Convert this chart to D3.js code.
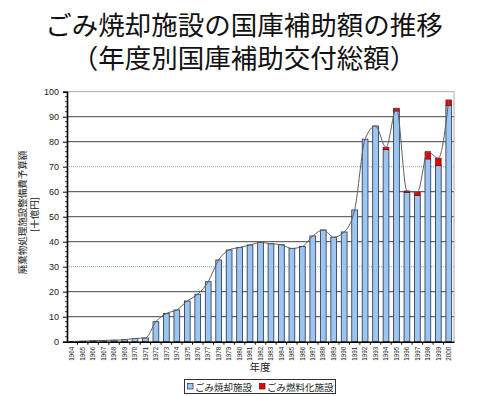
<!DOCTYPE html>
<html><head><meta charset="utf-8">
<script src="https://cdn.jsdelivr.net/npm/d3@7"></script>
<style>body{margin:0;background:#fff}svg{display:block}</style>
</head><body>
<svg id="c" width="480" height="396"></svg>
<script>
const years = ["1964","1965","1966","1967","1968","1969","1970","1971","1972","1973","1974","1975","1976","1977","1978","1979","1980","1981","1982","1983","1984","1985","1986","1987","1988","1989","1990","1991","1992","1993","1994","1995","1996","1997","1998","1999","2000"];
const incineration = [0.1,0.2,0.4,0.5,0.6,0.8,1.3,1.5,8.0,11.3,12.7,16.3,19.0,24.0,32.7,36.7,37.7,38.7,39.7,39.2,38.8,37.3,38.1,42.3,44.7,41.8,43.9,52.7,81.0,86.3,76.8,92.3,59.7,58.5,73.1,70.4,94.4];
const fuel = [0,0,0,0,0,0,0,0,0,0,0,0,0,0,0,0,0,0,0,0,0,0,0,0,0,0,0,0,0,0,0.9,1.1,0.6,1.3,2.9,3.0,2.3];
const yTicks = [0,10,20,30,40,50,60,70,80,90,100];
const seriesNames = ["ごみ焼却施設","ごみ燃料化施設"];
const titleLines = ["ごみ焼却施設の国庫補助額の推移","（年度別国庫補助交付総額）"];
const yLabelLines = ["廃棄物処理施設整備費予算額","[十億円]"];
const xLabel = "年度";

const svg = d3.select("#c");
const L = 67, R = 454, T = 91.7, B = 341.7;
const jp = "'Noto Sans CJK JP', sans-serif";
const num = "'Liberation Sans', Arial, sans-serif";

const x = d3.scaleBand().domain(years).range([L, R]).paddingInner(0.45).paddingOuter(0.225);
const y = d3.scaleLinear().domain([0, 100]).range([B, T]);

// title
svg.selectAll("text.title").data(titleLines).join("text")
  .attr("x", 244).attr("y", (d,i) => i ? 67.5 : 35)
  .attr("text-anchor","middle").attr("font-family", jp).attr("font-size", 26.5)
  .attr("fill","#111").text(d => d);

// gridlines
const g = svg.append("g");
g.selectAll("line.grid").data(yTicks.filter(v => v > 0)).join("line")
  .attr("x1", L).attr("x2", R).attr("y1", d => y(d)).attr("y2", d => y(d))
  .attr("stroke", d => d === 100 ? "#aaa" : (d === 30 || d === 70) ? "#7ea7d6" : "#444")
  .attr("stroke-width", 1)
  .attr("stroke-dasharray", d => (d === 30 || d === 70) ? "1,1" : null);
g.append("line").attr("x1", R).attr("x2", R).attr("y1", T).attr("y2", B).attr("stroke","#aaa");

// bars
const stack = years.map((yr,i) => ({yr, a: incineration[i], b: fuel[i]}));
svg.append("g").selectAll("rect").data(stack).join("rect")
  .attr("x", d => x(d.yr)).attr("width", x.bandwidth())
  .attr("y", d => y(d.a)).attr("height", d => y(0) - y(d.a))
  .attr("fill", "#9cc6f2").attr("stroke", "#2a2f45").attr("stroke-width", 0.8);
svg.append("g").selectAll("rect").data(stack.filter(d => d.b > 0)).join("rect")
  .attr("x", d => x(d.yr)).attr("width", x.bandwidth())
  .attr("y", d => y(d.a + d.b)).attr("height", d => y(d.a) - y(d.a + d.b))
  .attr("fill", "#e80000").attr("stroke", "#700").attr("stroke-width", 0.6);

// trend line
const line = d3.line().x(d => x(d.yr) + x.bandwidth()/2).y(d => y(d.a + d.b)).curve(d3.curveMonotoneX);
svg.append("path").datum(stack).attr("d", line).attr("fill","none").attr("stroke","#5f5f5f").attr("stroke-width",1);

// y axis
const ya = svg.append("g").attr("transform", `translate(${L},0)`)
  .call(d3.axisLeft(y).tickValues(yTicks).tickSize(4).tickPadding(4));
ya.select(".domain").attr("stroke","#000").attr("stroke-width",1.6);
ya.selectAll(".tick line").attr("stroke","#000");
ya.selectAll(".tick text").attr("font-family", num).attr("font-size", 9).attr("fill","#222");
const minor = d3.range(0, 101, 2).filter(v => v % 10 !== 0);
svg.append("g").selectAll("line").data(minor).join("line")
  .attr("x1", L-2).attr("x2", L).attr("y1", d => y(d)).attr("y2", d => y(d)).attr("stroke","#333");

// x axis
const xa = svg.append("g").attr("transform", `translate(0,${B})`)
  .call(d3.axisBottom(x).tickSize(0).tickPadding(0));
xa.select(".domain").attr("stroke","#000").attr("stroke-width",1.6);
xa.selectAll(".tick text").attr("font-family", num).attr("font-size", 6.3).attr("fill","#222")
  .attr("transform","rotate(-90)").attr("text-anchor","end").attr("x", -5).attr("y", 0).attr("dy","0.35em");
svg.append("g").selectAll("line").data(years.slice(1)).join("line")
  .attr("x1", d => x(d) - x.step()*x.paddingInner()/2).attr("x2", d => x(d) - x.step()*x.paddingInner()/2)
  .attr("y1", B).attr("y2", B+3).attr("stroke","#000");

// axis titles
svg.selectAll("text.ylab").data(yLabelLines).join("text")
  .attr("transform", (d,i) => `translate(${i ? 35 : 23},${i ? 214.5 : 212.5}) rotate(-90)`)
  .attr("text-anchor","middle").attr("dy","0.35em")
  .attr("font-family", jp).attr("font-size", 9.5).attr("fill","#222").text(d => d);
svg.append("text").attr("x", 260).attr("y", 371).attr("text-anchor","middle")
  .attr("font-family", jp).attr("font-size", 10.5).attr("fill","#222").text(xLabel);

// legend
const lg = svg.append("g");
lg.append("rect").attr("x",184.5).attr("y",379.5).attr("width",151).attr("height",14)
  .attr("fill","#fff").attr("stroke","#333");
const items = [{n: seriesNames[0], c:"#9cc6f2", s:"#2a2f45", x:187.5},{n: seriesNames[1], c:"#e80000", s:"#700", x:259.5}];
lg.selectAll("rect.sw").data(items).join("rect").attr("x", d => d.x).attr("y",383.5)
  .attr("width",5.5).attr("height",5.5).attr("fill", d => d.c).attr("stroke", d => d.s).attr("stroke-width",0.7);
lg.selectAll("text").data(items).join("text").attr("x", d => d.x + 7.5).attr("y", 390.5)
  .attr("font-family", jp).attr("font-size", 9.5).attr("fill","#222").text(d => d.n);
</script>
</body></html>
